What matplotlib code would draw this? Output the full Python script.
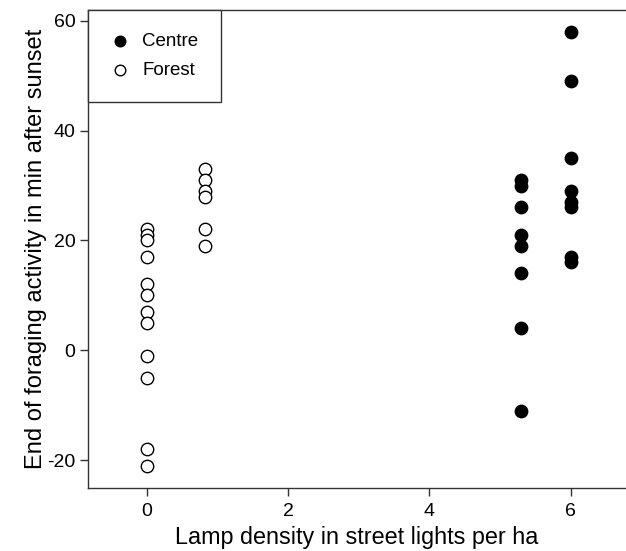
import matplotlib
matplotlib.use("Agg")
import matplotlib.pyplot as plt

plt.rcParams['font.family'] = ['Liberation Sans', 'DejaVu Sans']
plt.rcParams['axes.unicode_minus'] = False

# Data
centre_x = [5.3]*8 + [6.0]*8
centre_y = [31, 30, 26, 21, 19, 14, 4, -11,
            58, 49, 35, 29, 27, 26, 17, 16]
forest_x = [0.0]*12 + [0.83]*6
forest_y = [22, 21, 20, 17, 12, 10, 7, 5, -1, -5, -18, -21,
            33, 31, 29, 28, 22, 19]
xticks = [0, 2, 4, 6]
yticks = [-20, 0, 20, 40, 60]

fig = plt.figure(figsize=(6.26, 5.51), dpi=100)
ax = fig.add_axes([0.1406, 0.1152, 0.8594, 0.866])

ax.scatter(centre_x, centre_y, s=80, c='black', edgecolors='black', linewidths=1.0, label='Centre', zorder=3)
ax.scatter(forest_x, forest_y, s=80, facecolors='white', edgecolors='black', linewidths=1.0, label='Forest', zorder=3)

ax.set_xlim(-0.83, 6.78)
ax.set_ylim(-25.0, 61.9)
ax.set_xticks(xticks)
ax.set_yticks(yticks)
ax.spines['right'].set_visible(False)
for s in ['left', 'bottom', 'top']:
    ax.spines[s].set_color('#333333')
    ax.spines[s].set_linewidth(1.0)
ax.tick_params(direction='out', length=5.5, width=1.0, color='#333333', labelsize=14)
ax.tick_params(axis='y', pad=3.5)
ax.tick_params(axis='x', pad=6)

ax.set_xlabel('Lamp density in street lights per ha', fontsize=16.8, labelpad=4)
ax.set_ylabel('End of foraging activity in min after sunset', fontsize=17, labelpad=0)

leg = ax.legend(loc='upper left', bbox_to_anchor=(0, 1), borderaxespad=0, fontsize=13.5,
                fancybox=False, edgecolor='#333333', framealpha=1,
                borderpad=1.2, labelspacing=0.65, handlelength=1.0, handletextpad=0.7,
                markerscale=0.85)
leg.get_frame().set_linewidth(1.0)

fig.savefig('out.png', dpi=100)
